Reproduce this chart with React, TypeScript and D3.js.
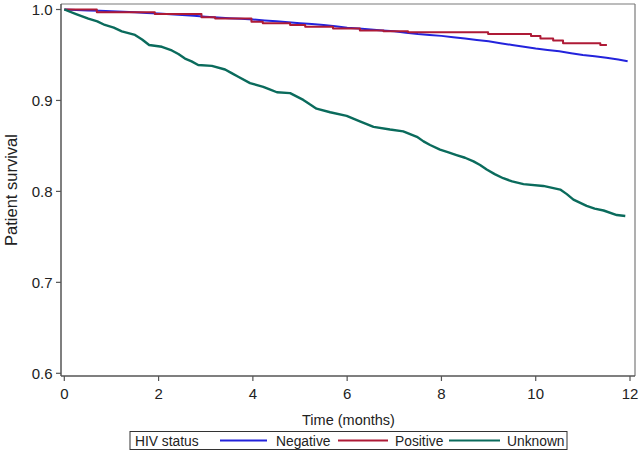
import React from "react";
import * as d3 from "d3";

const xTicks = [0, 2, 4, 6, 8, 10, 12];
const yTicks = [0.6, 0.7, 0.8, 0.9, 1.0];

const negativeTime = [0, 0.25, 0.5, 0.75, 1, 1.25, 1.5, 1.75, 2, 2.25, 2.5, 2.75, 3, 3.25, 3.5, 3.75, 4, 4.25, 4.5, 4.75, 5, 5.25, 5.5, 5.75, 6, 6.25, 6.5, 6.75, 7, 7.25, 7.5, 7.75, 8, 8.25, 8.5, 8.75, 9, 9.25, 9.5, 9.75, 10, 10.25, 10.5, 10.75, 11, 11.25, 11.5, 11.75, 11.95];
const negativeSurv = [1.0, 0.9995, 0.999, 0.9985, 0.998, 0.9975, 0.997, 0.9962, 0.9955, 0.9948, 0.994, 0.993, 0.992, 0.9912, 0.9905, 0.9898, 0.989, 0.988, 0.987, 0.986, 0.985, 0.984, 0.983, 0.9815, 0.980, 0.979, 0.978, 0.977, 0.976, 0.9745, 0.973, 0.972, 0.971, 0.9695, 0.968, 0.9665, 0.965, 0.963, 0.961, 0.959, 0.957, 0.9555, 0.954, 0.952, 0.950, 0.9485, 0.947, 0.945, 0.943];

const positiveTime = [0, 0.69, 1.92, 2.91, 3.2, 3.97, 4.21, 4.79, 5.11, 5.7, 6.27, 6.77, 7.29, 8.99, 9.9, 10.1, 10.37, 10.58, 11.37, 11.51];
const positiveSurv = [1.0, 0.997, 0.995, 0.9915, 0.990, 0.9865, 0.985, 0.983, 0.981, 0.979, 0.977, 0.976, 0.975, 0.973, 0.971, 0.968, 0.966, 0.963, 0.961, 0.961];

const unknownTime = [0, 0.25, 0.51, 0.7, 0.86, 1.05, 1.22, 1.5, 1.65, 1.8, 2.07, 2.28, 2.42, 2.56, 2.7, 2.84, 3.13, 3.41, 3.55, 3.69, 3.94, 4.22, 4.37, 4.51, 4.79, 5.07, 5.2, 5.35, 5.64, 5.99, 6.13, 6.27, 6.56, 6.91, 7.19, 7.48, 7.62, 7.76, 7.97, 8.15, 8.32, 8.5, 8.68, 8.82, 8.96, 9.13, 9.31, 9.5, 9.74, 10.16, 10.52, 10.66, 10.8, 11.08, 11.25, 11.44, 11.72, 11.9];
const unknownSurv = [1.0, 0.995, 0.990, 0.987, 0.983, 0.980, 0.976, 0.972, 0.967, 0.961, 0.959, 0.955, 0.951, 0.946, 0.943, 0.939, 0.938, 0.934, 0.930, 0.926, 0.919, 0.915, 0.912, 0.909, 0.908, 0.9006, 0.896, 0.891, 0.887, 0.883, 0.880, 0.877, 0.871, 0.868, 0.866, 0.860, 0.855, 0.851, 0.846, 0.843, 0.840, 0.837, 0.833, 0.829, 0.824, 0.819, 0.8145, 0.811, 0.808, 0.806, 0.802, 0.797, 0.791, 0.784, 0.781, 0.779, 0.774, 0.773];

const seriesNames = ["Negative", "Positive", "Unknown"];
const seriesColors = ["#2323DC", "#AE1A36", "#0A6B5C"];

const W = 640;
const H = 454;
const frame = { left: 61, right: 635, top: 4, bottom: 376 };
const FONT = "'Liberation Sans', Arial, Helvetica, sans-serif";

export default function App() {
  const x = d3.scaleLinear().domain([0, 12]).range([64.3, 630]);
  const y = d3.scaleLinear().domain([0.6, 1.0]).range([373.3, 9.5]);

  const stepLine = d3
    .line<[number, number]>()
    .x((d) => x(d[0]))
    .y((d) => y(d[1]))
    .curve(d3.curveStepAfter);
  const smoothLine = d3
    .line<[number, number]>()
    .x((d) => x(d[0]))
    .y((d) => y(d[1]))
    .curve(d3.curveLinear);

  const series: [number, number][][] = [
    negativeTime.map((t, i) => [t, negativeSurv[i]] as [number, number]),
    positiveTime.map((t, i) => [t, positiveSurv[i]] as [number, number]),
    unknownTime.map((t, i) => [t, unknownSurv[i]] as [number, number]),
  ];
  const widths = [2, 2, 2.4];
  const gens = [smoothLine, stepLine, smoothLine];

  const legendItems = [
    { x1: 220, x2: 267, tx: 276 },
    { x1: 338, x2: 388, tx: 395 },
    { x1: 449, x2: 500, tx: 507 },
  ];

  return (
    <svg
      width={W}
      height={H}
      style={{ position: "fixed", left: 0, top: 0, background: "#fff" }}
      fontFamily={FONT}
    >
      <rect x={0} y={0} width={W} height={H} fill="#fff" />
      {/* frame */}
      <line x1={frame.left} x2={frame.right} y1={frame.top} y2={frame.top} stroke="#7a7a7a" strokeWidth={1.2} />
      <line x1={frame.right} x2={frame.right} y1={frame.top} y2={frame.bottom} stroke="#7a7a7a" strokeWidth={1.2} />
      <line x1={frame.left} x2={frame.left} y1={frame.top} y2={frame.bottom} stroke="#555" strokeWidth={1.5} />
      <line x1={frame.left} x2={frame.right} y1={frame.bottom} y2={frame.bottom} stroke="#555" strokeWidth={1.5} />

      {/* y ticks */}
      {yTicks.map((v) => (
        <g key={"y" + v}>
          <line x1={56} x2={frame.left} y1={y(v)} y2={y(v)} stroke="#555" strokeWidth={1.2} />
          <text x={52.5} y={y(v) + 5.3} fontSize={15} textAnchor="end" fill="#222">
            {v.toFixed(1)}
          </text>
        </g>
      ))}

      {/* x ticks */}
      {xTicks.map((t) => (
        <g key={"x" + t}>
          <line x1={x(t)} x2={x(t)} y1={frame.bottom} y2={frame.bottom + 5} stroke="#555" strokeWidth={1.2} />
          <text x={x(t)} y={399} fontSize={15} textAnchor="middle" fill="#222">
            {t}
          </text>
        </g>
      ))}

      {/* axis titles */}
      <text x={(frame.left + frame.right) / 2 + 0.5} y={424.5} fontSize={14.5} textAnchor="middle" fill="#222">
        Time (months)
      </text>
      <text transform={`translate(17,${(frame.top + frame.bottom) / 2}) rotate(-90)`} fontSize={16.5} textAnchor="middle" fill="#222">
        Patient survival
      </text>

      {/* curves */}
      {series.map((s, i) => (
        <path key={seriesNames[i]} d={gens[i](s) || ""} fill="none" stroke={seriesColors[i]} strokeWidth={widths[i]} strokeLinejoin="round" />
      ))}

      {/* legend */}
      <rect x={130} y={431.5} width={437} height={18} fill="none" stroke="#333" strokeWidth={1} />
      <text x={135} y={445.5} fontSize={13.8} fill="#222">
        HIV status
      </text>
      {legendItems.map((it, i) => (
        <g key={"leg" + i}>
          <line x1={it.x1} x2={it.x2} y1={440.5} y2={440.5} stroke={seriesColors[i]} strokeWidth={2} />
          <text x={it.tx} y={445.5} fontSize={13.8} fill="#222">
            {seriesNames[i]}
          </text>
        </g>
      ))}
    </svg>
  );
}
